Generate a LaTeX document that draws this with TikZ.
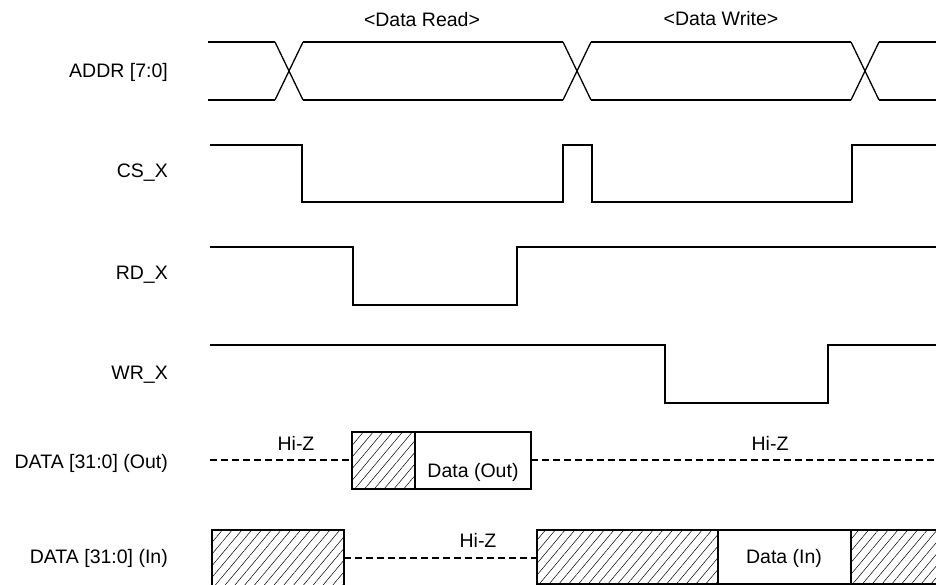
\documentclass[tikz,border=0pt]{standalone}
\usepackage{fontspec}
\setmainfont{Liberation Sans}
\usetikzlibrary{patterns.meta}

\tikzset{
  wave/.style={draw,line width=1.3pt,line join=miter},
  hiz/.style={draw,line width=1.3pt,dash pattern=on 7pt off 4pt},
  hatched/.style={pattern={Lines[angle=50,distance=7.5pt,line width=0.5pt]}},
  signame/.style={anchor=east,inner sep=0pt,font=\fontsize{19.5}{22}\selectfont},
  wlabel/.style={inner sep=0pt,font=\fontsize{19.5}{22}\selectfont},
}

\begin{document}
\begin{tikzpicture}[x=1pt,y=-1pt]
\useasboundingbox (0,0) rectangle (936,585);
% signal names
\node[signame] (addr) at (168,72) {ADDR [7:0]};
\node[signame] (cs) at (168,173) {CS\_X};
\node[signame] (rd) at (168,275) {RD\_X};
\node[signame] (wr) at (168,375) {WR\_X};
\node[signame] (dout) at (168,463) {DATA [31:0] (Out)};
\node[signame] (din) at (168,558) {DATA [31:0] (In)};
% phases
\node[wlabel] (rdphase) at (422,20) {<Data Read>};
\node[wlabel] (wrphase) at (721,19) {<Data Write>};
% address bus
\foreach \c in {289,577,865}{
  \path[wave] (\c-14,42) -- (\c+14,100);
  \path[wave] (\c-14,100) -- (\c+14,42);
}
\path[wave] (208,42) -- (275,42) (303,42) -- (563,42) (591,42) -- (851,42) (879,42) -- (936,42);
\path[wave] (208,100) -- (275,100) (303,100) -- (563,100) (591,100) -- (851,100) (879,100) -- (936,100);
% strobes
\path[wave] (210,145) -- (302,145) -- (302,202) -- (563,202) -- (563,145)
  -- (592,145) -- (592,202) -- (852,202) -- (852,145) -- (936,145);
\path[wave] (210,247) -- (353,247) -- (353,305) -- (517,305) -- (517,247) -- (936,247);
\path[wave] (210,345) -- (665,345) -- (665,403) -- (828,403) -- (828,345) -- (936,345);
% data out
\path[hiz] (210,460) -- (352,460);
\path[hiz] (531,460) -- (936,460);
\node[wlabel] (hiz1) at (296,443) {Hi-Z};
\node[wlabel] (hiz2) at (770,443) {Hi-Z};
\path[hatched] (352,432) rectangle (415,489);
\path[wave] (352,432) rectangle (531,489);
\path[wave] (415,432) -- (415,489);
\node[wlabel] (dataout) at (473,472) {Data (Out)};
% data in
\path[hatched] (212,530) rectangle (344,588);
\path[wave] (212,530) rectangle (344,588);
\path[hiz] (344,558) -- (537,558);
\node[wlabel] (hiz3) at (478,540) {Hi-Z};
\path[hatched] (537,530) rectangle (718,588);
\path[hatched] (851,530) rectangle (940,588);
\path[wave] (537,588) -- (537,530) -- (940,530);
\path[wave] (537,584) -- (940,584);
\path[wave] (718,530) -- (718,588);
\path[wave] (851,530) -- (851,588);
\node[wlabel] (datain) at (784,558) {Data (In)};
\end{tikzpicture}
\end{document}
